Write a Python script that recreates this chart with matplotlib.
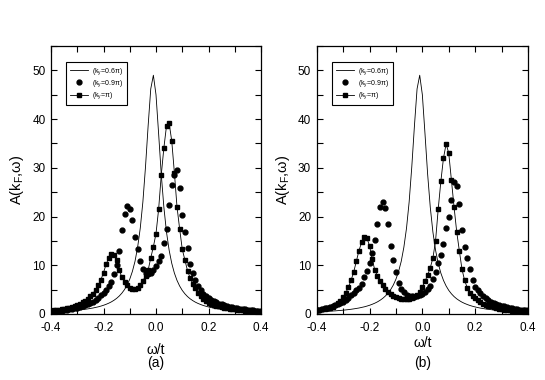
import numpy as np
import matplotlib
matplotlib.use('Agg')
import matplotlib.pyplot as plt
from matplotlib.ticker import MultipleLocator

plt.rcParams['font.family'] = ['Liberation Sans', 'DejaVu Sans']
plt.rcParams['mathtext.fontset'] = 'custom'
plt.rcParams['mathtext.rm'] = 'Liberation Sans'
plt.rcParams['mathtext.it'] = 'Liberation Sans'

# omega/t grid, step 0.01
omega = np.round(np.arange(-40, 41) / 100, 2)

# ky = 0.6 pi (same curve in both panels)
line06 = [0.44, 0.46, 0.48, 0.51, 0.54, 0.57, 0.61, 0.64, 0.69, 0.73,
          0.78, 0.84, 0.90, 0.97, 1.05, 1.14, 1.23, 1.35, 1.47, 1.62,
          1.79, 1.99, 2.22, 2.49, 2.82, 3.21, 3.69, 4.28, 5.01, 5.94,
          7.15, 8.73, 10.8, 13.7, 17.6, 23.0, 30.2, 38.6, 46.2, 49.0,
          45.0, 37.0, 28.7, 21.9, 16.8, 13.1, 10.4, 8.4, 6.9, 5.75,
          4.85, 4.15, 3.58, 3.12, 2.75, 2.43, 2.17, 1.95, 1.75, 1.59,
          1.45, 1.32, 1.21, 1.12, 1.03, 0.96, 0.89, 0.83, 0.77, 0.72,
          0.68, 0.64, 0.60, 0.56, 0.53, 0.50, 0.48, 0.45, 0.43, 0.41, 0.39]

# panel (a)
a_09 = [0.52, 0.56, 0.60, 0.65, 0.70, 0.76, 0.84, 0.93, 1.03, 1.15,
        1.28, 1.42, 1.60, 1.80, 2.00, 2.25, 2.50, 2.85, 3.30, 3.80,
        4.30, 4.90, 5.70, 6.60, 8.20, 10.0, 13.0, 17.2, 20.5, 22.2,
        21.5, 19.3, 15.8, 13.3, 10.9, 9.2, 8.4, 8.2, 8.5, 9.0,
        9.8, 10.8, 12.0, 14.5, 17.5, 22.3, 26.5, 28.5, 29.6, 25.8,
        20.4, 16.9, 13.6, 10.2, 8.4, 7.0, 5.8, 4.9, 4.2, 3.7,
        3.3, 2.95, 2.65, 2.40, 2.15, 1.95, 1.80, 1.65, 1.50, 1.40,
        1.30, 1.20, 1.10, 1.00, 0.93, 0.86, 0.80, 0.74, 0.68, 0.63, 0.58]
a_10 = [0.70, 0.75, 0.80, 0.85, 0.95, 1.05, 1.20, 1.30, 1.45, 1.65,
        1.85, 2.05, 2.40, 2.70, 3.10, 3.60, 4.20, 5.00, 5.90, 7.00,
        8.50, 10.2, 11.5, 12.3, 12.1, 11.0, 9.0, 7.5, 6.6, 5.9,
        5.4, 5.15, 5.15, 5.4, 5.9, 6.8, 7.8, 9.0, 11.5, 13.8,
        16.5, 21.5, 28.5, 34.1, 38.6, 39.2, 35.5, 29.0, 22.0, 17.5,
        13.3, 11.1, 8.9, 7.4, 6.2, 5.3, 4.3, 3.6, 3.0, 2.65,
        2.35, 2.10, 1.90, 1.70, 1.55, 1.40, 1.30, 1.20, 1.10, 1.00,
        0.95, 0.88, 0.82, 0.76, 0.70, 0.65, 0.60, 0.56, 0.52, 0.49, 0.46]

# panel (b)
b_09 = [0.80, 0.90, 1.00, 1.15, 1.30, 1.45, 1.60, 1.75, 1.95, 2.20,
        2.45, 2.80, 3.20, 3.80, 4.35, 4.90, 5.40, 6.20, 7.50, 8.80,
        10.5, 12.5, 15.2, 18.5, 22.0, 22.9, 21.8, 18.5, 14.0, 11.0,
        8.6, 6.3, 5.1, 4.5, 3.95, 3.75, 3.60, 3.55, 3.65, 3.85,
        4.1, 4.6, 5.1, 5.8, 7.1, 8.7, 10.4, 12.2, 14.3, 17.6,
        20.0, 23.3, 27.0, 26.2, 22.5, 17.2, 13.8, 11.5, 9.3, 7.0,
        5.6, 4.9, 4.3, 3.7, 3.2, 2.8, 2.5, 2.25, 2.0, 1.85,
        1.70, 1.55, 1.45, 1.30, 1.20, 1.10, 1.00, 0.92, 0.85, 0.78, 0.72]
b_10 = [0.80, 0.87, 0.95, 1.05, 1.15, 1.30, 1.50, 1.80, 2.20, 2.70,
        3.40, 4.30, 5.50, 6.90, 8.60, 10.8, 13.0, 14.7, 15.7, 15.6,
        14.0, 11.3, 9.0, 7.8, 6.8, 6.0, 5.2, 4.6, 4.1, 3.7,
        3.4, 3.2, 3.1, 3.0, 3.05, 3.15, 3.35, 3.65, 4.0, 4.6,
        5.6, 6.7, 8.0, 9.5, 11.5, 15.0, 21.5, 27.2, 32.0, 34.9,
        33.0, 27.5, 22.0, 16.9, 13.0, 9.2, 6.9, 5.4, 4.4, 3.7,
        3.2, 2.8, 2.45, 2.15, 1.90, 1.70, 1.55, 1.40, 1.25, 1.12,
        1.00, 0.90, 0.82, 0.74, 0.67, 0.61, 0.56, 0.50, 0.47, 0.44, 0.41]

xtick_labels = ['-0.4', '-0.2', '0.0', '0.2', '0.4']

W, H = 545, 380
fig = plt.figure(figsize=(W / 100, H / 100), dpi=100)

# left px, right px, data, tag, y of "omega/t" label, y of tag
panels = [
    (51, 261, a_09, a_10, '(a)', 350, 363),
    (316.7, 528, b_09, b_10, '(b)', 343, 363),
]

for left, right, s09, s10, tag, xlab_y, tag_y in panels:
    ax = fig.add_axes([left / W, 1 - 314 / H, (right - left) / W, 268 / H])
    ax.plot(omega, line06, color='black', lw=0.6, label='(k$_y$=0.6\u03c0)')
    ax.plot(omega, s09, linestyle='none', marker='o', ms=3.5, color='black',
            label='(k$_y$=0.9\u03c0)')
    ax.plot(omega, s10, color='black', lw=0.6, marker='s', ms=3.1,
            label='(k$_y$=\u03c0)')

    ax.set_xlim(-0.4, 0.4)
    ax.set_ylim(0, 55)
    ax.set_xticks([-0.4, -0.2, 0.0, 0.2, 0.4])
    ax.set_xticklabels(xtick_labels)
    ax.xaxis.set_minor_locator(MultipleLocator(0.1))
    ax.yaxis.set_major_locator(MultipleLocator(10))
    ax.yaxis.set_minor_locator(MultipleLocator(5))
    ax.tick_params(which='both', direction='in', top=True, right=True,
                   length=4, width=0.8, labelsize=8.5)
    ax.tick_params(axis='x', pad=6)
    ax.tick_params(axis='y', pad=4)
    for sp in ax.spines.values():
        sp.set_linewidth(0.9)

    leg = ax.legend(loc='upper left', bbox_to_anchor=(0.071, 0.94),
                    borderaxespad=0, fontsize=5, handlelength=2.6,
                    handleheight=0.5, handletextpad=0.6, labelspacing=0.2,
                    borderpad=0.55, fancybox=False, edgecolor='black',
                    framealpha=1)
    leg.get_frame().set_linewidth(0.8)

    cx = (left + right) / 2 / W
    fig.text(cx, 1 - xlab_y / H, '\u03c9/t', ha='center', va='center', fontsize=10)
    fig.text(cx, 1 - tag_y / H, tag, ha='center', va='center', fontsize=10)
    fig.text((left - 34) / W, 1 - 180 / H, 'A(k$_F$,\u03c9)', rotation=90,
             ha='center', va='center', fontsize=10.5)

fig.savefig('out.png', dpi=100)
